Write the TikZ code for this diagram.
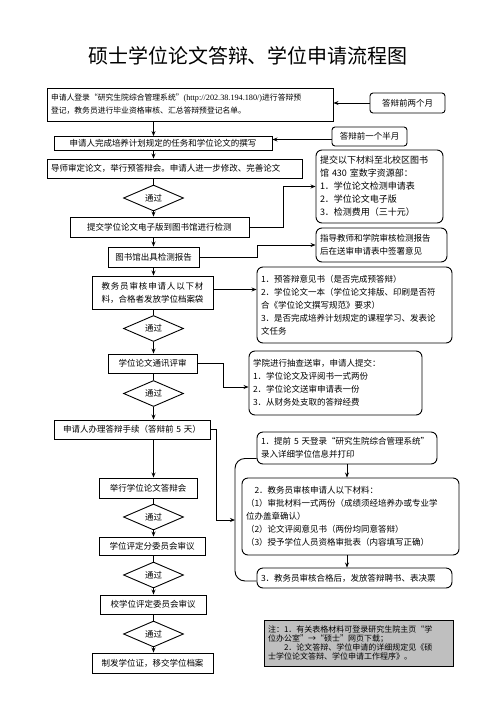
\documentclass[tikz,border=0pt]{standalone}
\usepackage{fontspec}
\setmainfont{Noto Sans CJK SC}
\newfontfamily\lat{Liberation Serif}
\usetikzlibrary{shapes.geometric,arrows.meta}
\begin{document}
\begin{tikzpicture}[x=1pt,y=-1pt,
  every node/.style={font=\fontsize{8.5}{13}\selectfont},
  box/.style={draw, line width=0.9pt, inner xsep=4pt, inner ysep=0pt, align=center},
  rbox/.style={box, rounded corners=6pt, align=left},
  tagbox/.style={box, rounded corners=3pt},
  dia/.style={draw, line width=0.9pt, diamond, minimum width=60pt, minimum height=26pt, inner sep=0pt},
  arr/.style={line width=0.9pt, -{Stealth[length=5pt,width=4pt]}},
  ln/.style={line width=0.9pt}]
\useasboundingbox (0,0) rectangle (496,702);
\node[font=\fontsize{20}{24}\selectfont] (title) at (248,56) {硕士学位论文答辩、学位申请流程图};
% main column
\node[box, align=left, text width=278pt, minimum height=33pt, font=\fontsize{7.8}{13}\selectfont] (b1) at (190,104.5)
  {申请人登录“研究生院综合管理系统”{\lat\fontsize{8.2}{13}\selectfont(http://202.38.194.180/)}进行答辩预\\登记，教务员进行毕业资格审核、汇总答辩预登记名单。};
\node[box, text width=210pt, minimum height=14pt] (b2) at (163,143.5) {申请人完成培养计划规定的任务和学位论文的撰写};
\node[box, align=left, text width=247pt, minimum height=19pt] (b3) at (174.5,168.5) {导师审定论文，举行预答辩会。申请人进一步修改、完善论文};
\node[dia] (d1) at (153.5,198) {通过};
\node[box, text width=171pt, minimum height=20pt] (b4) at (159.5,227) {提交学位论文电子版到图书馆进行检测};
\node[box, text width=83pt, minimum height=20pt] (b5) at (153.5,257) {图书馆出具检测报告};
\node[box, text width=113pt, minimum height=33pt] (b6) at (152.5,292.5)
  {\makebox[12em][s]{教\hfill 务\hfill 员\hfill 审\hfill 核\hfill 申\hfill 请\hfill 人\hfill 以\hfill 下\hfill 材}\\料，合格者发放学位档案袋};
\node[dia] (d2) at (153.5,328.5) {通过};
\node[box, text width=81pt, minimum height=19pt] (b7) at (152.5,363.5) {学位论文通讯评审};
\node[dia] (d3) at (153.5,393.5) {通过};
\node[box, text width=148pt, minimum height=19pt] (b8) at (132,429.5) {申请人办理答辩手续（答辩前 5 天）};
\node[box, text width=90pt, minimum height=20pt] (b9) at (148,488) {举行学位论文答辩会};
\node[dia] (d4) at (153.5,517) {通过};
\node[box, text width=98pt, minimum height=18pt] (b10) at (152,546) {学位评定分委员会审议};
\node[dia] (d5) at (153.5,575) {通过};
\node[box, text width=98pt, minimum height=19pt] (b11) at (153,604.5) {校学位评定委员会审议};
\node[dia] (d6) at (153.5,634) {通过};
\node[box, text width=113pt, minimum height=20pt] (b12) at (152.5,663) {制发学位证，移交学位档案};
% right column
\node[tagbox, text width=67pt, minimum height=20pt] (t1) at (407.5,103) {答辩前两个月};
\node[tagbox, text width=67pt, minimum height=19pt] (t2) at (369.5,136.5) {答辩前一个半月};
\node[rbox, text width=119pt, minimum height=73pt, font=\fontsize{9}{13}\selectfont] (A) at (379.5,186.5)
  {提交以下材料至北校区图书\\馆 430 室数字资源部：\\1．学位论文检测申请表\\2．学位论文电子版\\3．检测费用（三十元）};
\node[rbox, text width=123pt, minimum height=34pt] (B) at (381.5,245)
  {指导教师和学院审核检测报告\\后在送审申请表中签署意见};
\node[rbox, text width=187pt, minimum height=76pt] (C) at (354.5,305)
  {1．预答辩意见书（是否完成预答辩）\\2．学位论文一本（学位论文排版、印刷是否符\\合《学位论文撰写规范》要求）\\3．是否完成培养计划规定的课程学习、发表论\\文任务};
\node[rbox, text width=165pt, minimum height=64pt] (D) at (335.5,383)
  {学院进行抽查送审，申请人提交：\\1．学位论文及评阅书一式两份\\2．学位论文送审申请表一份\\3．从财务处支取的答辩经费};
\node[rbox, text width=172pt, minimum height=32pt] (E) at (347,448)
  {1．提前 5 天登录“研究生院综合管理系统”\\录入详细学位信息并打印};
\node[rbox, text width=209pt, minimum height=77pt] (F) at (350.5,516.5)
  {\hspace*{1em}2．教务员审核申请人以下材料：\\（1）审批材料一式两份（成绩须经培养办或专业学\\位办盖章确认）\\（2）论文评阅意见书（两份均同意答辩）\\（3）授予学位人员资格审批表（内容填写正确）};
\node[rbox, text width=187pt, minimum height=20pt] (G) at (354.5,578)
  {3．教务员审核合格后，发放答辩聘书、表决票};
\node[box, align=left, fill=black!25, text width=181pt, minimum height=46pt, font=\fontsize{8}{9}\selectfont] (N) at (358.5,643)
  {注：1．有关表格材料可登录研究生院主页“学\\位办公室”→“硕士”网页下载；\\\hspace*{2em}2．论文答辩、学位申请的详细规定见《硕\\士学位论文答辩、学位申请工作程序》。};
% vertical flow
\coordinate (col) at (153.5,0);
\draw[arr] (b1.south -| col) -- (b2.north -| col);
\draw[arr] (b2.south -| col) -- (b3.north -| col);
\draw[ln] (b3.south -| col) -- (d1.north);
\draw[arr] (d1.south) -- (b4.north -| col);
\draw[arr] (b4.south -| col) -- (b5.north -| col);
\draw[arr] (b5.south -| col) -- (b6.north -| col);
\draw[ln] (b6.south -| col) -- (d2.north);
\draw[arr] (d2.south) -- (b7.north -| col);
\draw[ln] (b7.south -| col) -- (d3.north);
\draw[arr] (d3.south) -- (b8.north -| col);
\draw[arr] (b8.south -| col) -- (b9.north -| col);
\draw[ln] (b9.south -| col) -- (d4.north);
\draw[arr] (d4.south) -- (b10.north -| col);
\draw[ln] (b10.south -| col) -- (d5.north);
\draw[arr] (d5.south) -- (b11.north -| col);
\draw[ln] (b11.south -| col) -- (d6.north);
\draw[arr] (d6.south) -- (b12.north -| col);
% side connectors
\draw[arr] (t1.west) -- (t1.west -| b1.east);
\draw[arr] ([yshift=-3pt]t2.west) -- ([yshift=-3pt]t2.west -| b2.east);
\draw[arr] (b4.east) -- ++(34,0) |- (A.west);
\draw[arr] (b5.east) -- ++(58,0) |- (B.west);
\draw[arr] ([yshift=3pt]b6.east) -- ([yshift=3pt]b6.east -| C.west);
\draw[arr] (b7.east) -- ++(26,0) |- ([yshift=-4pt]D.west);
\coordinate (brk) at (235,520);
\draw[arr] (b8.east) -- ++(6,0) |- (brk);
\draw[ln, rounded corners=10pt] ([yshift=6pt]E.south west) -| (brk) |- ([yshift=-3pt]G.west);
\draw[arr] (E.south) -- (E.south |- F.north);
\draw[arr] (F.south -| E.south) -- (G.north -| E.south);
\end{tikzpicture}
\end{document}
